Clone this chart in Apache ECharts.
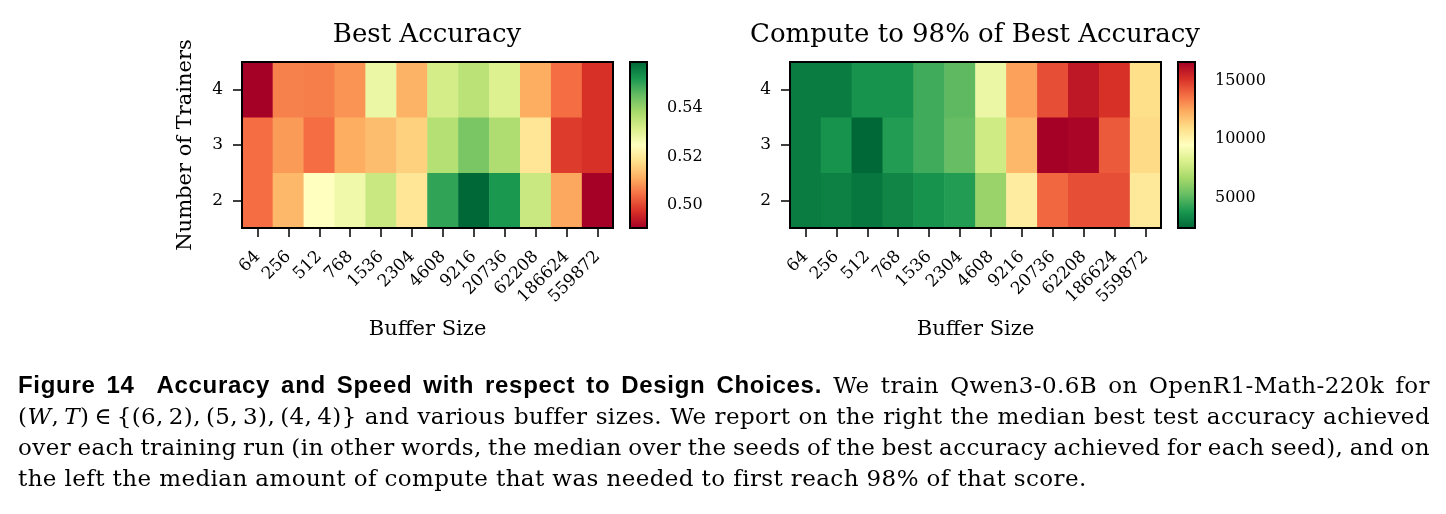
<!DOCTYPE html>
<html>
<head>
<meta charset="utf-8">
<script src="https://cdn.jsdelivr.net/npm/echarts@6/dist/echarts.min.js"></script>
<style>
html,body{margin:0;padding:0;background:#fff;}
#chart{position:absolute;left:0;top:0;width:1446px;height:514px;}
#caption{position:absolute;left:18px;top:369px;width:1412px;font-family:'DejaVu Serif',serif;font-size:23px;line-height:31px;color:#000;letter-spacing:0.4px;}
#caption .ln{white-space:nowrap;}
#caption .bf{font-family:'Liberation Sans',sans-serif;font-weight:bold;font-size:24px;letter-spacing:0.7px;}
</style>
</head>
<body>
<div id="chart"></div>
<div id="caption">
<div class="ln"><span class="in"><span class="bf">Figure 14&nbsp;&nbsp;Accuracy and Speed with respect to Design Choices.</span> We train Qwen3-0.6B on OpenR1-Math-220k for</span></div>
<div class="ln"><span class="in">(<i>W</i>,&thinsp;<i>T</i>)&thinsp;∈&thinsp;{(6,&thinsp;2),&thinsp;(5,&thinsp;3),&thinsp;(4,&thinsp;4)} and various buffer sizes. We report on the right the median best test accuracy achieved</span></div>
<div class="ln"><span class="in">over each training run (in other words, the median over the seeds of the best accuracy achieved for each seed), and on</span></div>
<div class="ln last"><span class="in">the left the median amount of compute that was needed to first reach 98% of that score.</span></div>
</div>
<script>
// ---- data ----
const bufferSizes = ['64','256','512','768','1536','2304','4608','9216','20736','62208','186624','559872'];
const trainers = ['2','3','4'];

const accT2 = [0.5042, 0.5124, 0.5248, 0.5275, 0.5337, 0.5193, 0.5501, 0.5590, 0.5522, 0.5337, 0.5104, 0.4905];
const accT3 = [0.5042, 0.5090, 0.5042, 0.5111, 0.5131, 0.5158, 0.5364, 0.5432, 0.5371, 0.5193, 0.4987, 0.4974];
const accT4 = [0.4905, 0.5063, 0.5060, 0.5083, 0.5282, 0.5117, 0.5323, 0.5357, 0.5309, 0.5111, 0.5042, 0.4974];

const compT2 = [2970, 3110, 2830, 3250, 3680, 3960, 6380, 10350, 13900, 14470, 14470, 10490];
const compT3 = [2970, 3680, 2400, 3960, 4530, 5240, 7800, 12060, 16600, 16460, 14190, 11060];
const compT4 = [2970, 2970, 3680, 3680, 4530, 5100, 8790, 12620, 14470, 15890, 15180, 10920];

const accRange = [0.4905, 0.559];
const compRange = [2400, 16600];
const accTicks = [0.50, 0.52, 0.54];
const compTicks = [5000, 10000, 15000];

const titles = ['Best Accuracy', 'Compute to 98% of Best Accuracy'];
const xName = 'Buffer Size';
const yName = 'Number of Trainers';

const RdYlGn = ['#a50026','#d73027','#f46d43','#fdae61','#fee08b','#ffffbf','#d9ef8b','#a6d96a','#66bd63','#1a9850','#006837'];

// ---- caption justification (fill each full line to the column width) ----
document.querySelectorAll('#caption .ln').forEach(div => {
  if (div.classList.contains('last')) return;
  const inner = div.querySelector('.in');
  const w = inner.getBoundingClientRect().width;
  const n = (inner.textContent.match(/[ \u00a0]/g) || []).length;
  if (n > 0) inner.style.wordSpacing = ((1412 - w) / n) + 'px';
});

// ---- build ----
function cells(rows) {
  const out = [];
  rows.forEach((row, yi) => row.forEach((v, xi) => out.push([xi, yi, v])));
  return out;
}

const SERIF = 'DejaVu Serif';
const frame = {show: true, borderColor: '#000', borderWidth: 2, backgroundColor: 'rgba(0,0,0,0)', z: 10};
const tickStyle = {show: true, length: 9, lineStyle: {color: '#000', width: 1.5}};

function heatX(gi) {
  return {
    type: 'category', gridIndex: gi, data: bufferSizes,
    axisLine: {show: false},
    axisTick: Object.assign({alignWithLabel: true}, tickStyle),
    axisLabel: {interval: 0, rotate: 45, margin: 26, fontFamily: SERIF, fontSize: 17, color: '#000'},
    splitLine: {show: false},
    name: xName, nameLocation: 'middle', nameGap: 91,
    nameTextStyle: {fontFamily: SERIF, fontSize: 21, color: '#000'}
  };
}
function heatY(gi, withName) {
  const a = {
    type: 'category', gridIndex: gi, data: trainers,
    axisLine: {show: false},
    axisTick: Object.assign({alignWithLabel: true}, tickStyle),
    axisLabel: {margin: 19, fontFamily: SERIF, fontSize: 17, color: '#000'},
    splitLine: {show: false}
  };
  if (withName) {
    a.name = yName; a.nameLocation = 'middle'; a.nameGap = 46;
    a.nameTextStyle = {fontFamily: SERIF, fontSize: 21, color: '#000'};
  }
  return a;
}
function cbY(gi, range, ticks, fmt) {
  return {
    type: 'value', gridIndex: gi, position: 'right', min: range[0], max: range[1],
    axisLine: {show: false},
    axisTick: Object.assign({customValues: ticks}, tickStyle),
    axisLabel: {customValues: ticks, margin: 20, fontFamily: SERIF, fontSize: 16, color: '#000', formatter: fmt},
    splitLine: {show: false}
  };
}

const option = {
  backgroundColor: '#fff',
  animation: false,
  grid: [
    Object.assign({left: 242, top: 62, width: 371, height: 166}, frame),
    Object.assign({left: 790, top: 62, width: 371, height: 166}, frame),
    Object.assign({left: 630, top: 62, width: 17, height: 166}, frame),
    Object.assign({left: 1178, top: 62, width: 17, height: 166}, frame)
  ],
  xAxis: [
    heatX(0), heatX(1),
    {type: 'value', gridIndex: 2, show: false, min: 0, max: 1},
    {type: 'value', gridIndex: 3, show: false, min: 0, max: 1}
  ],
  yAxis: [
    heatY(0, true), heatY(1, false),
    cbY(2, accRange, accTicks, v => v.toFixed(2)),
    cbY(3, compRange, compTicks, v => String(v))
  ],
  visualMap: [
    {type: 'continuous', seriesIndex: 0, dimension: 2, min: accRange[0], max: accRange[1],
     inRange: {color: RdYlGn}, calculable: false, hoverLink: false, padding: 0,
     left: 630, top: 62, itemWidth: 17, itemHeight: 166, orient: 'vertical'},
    {type: 'continuous', seriesIndex: 1, dimension: 2, min: compRange[0], max: compRange[1],
     inRange: {color: RdYlGn.slice().reverse()}, calculable: false, hoverLink: false, padding: 0,
     left: 1178, top: 62, itemWidth: 17, itemHeight: 166, orient: 'vertical'}
  ],
  graphic: [
    {type: 'text', x: 427, y: 35, style: {text: titles[0], fontFamily: SERIF, fontSize: 26, fill: '#000', textAlign: 'center', textVerticalAlign: 'middle'}},
    {type: 'text', x: 975, y: 35, style: {text: titles[1], fontFamily: SERIF, fontSize: 26, fill: '#000', textAlign: 'center', textVerticalAlign: 'middle'}}
  ],
  series: [
    {type: 'heatmap', xAxisIndex: 0, yAxisIndex: 0, data: cells([accT2, accT3, accT4]), emphasis: {disabled: true}, itemStyle: {borderWidth: 0}},
    {type: 'heatmap', xAxisIndex: 1, yAxisIndex: 1, data: cells([compT2, compT3, compT4]), emphasis: {disabled: true}, itemStyle: {borderWidth: 0}}
  ]
};

const chart = echarts.init(document.getElementById('chart'), null, {renderer: 'canvas'});
chart.setOption(option);
</script>
</body>
</html>
